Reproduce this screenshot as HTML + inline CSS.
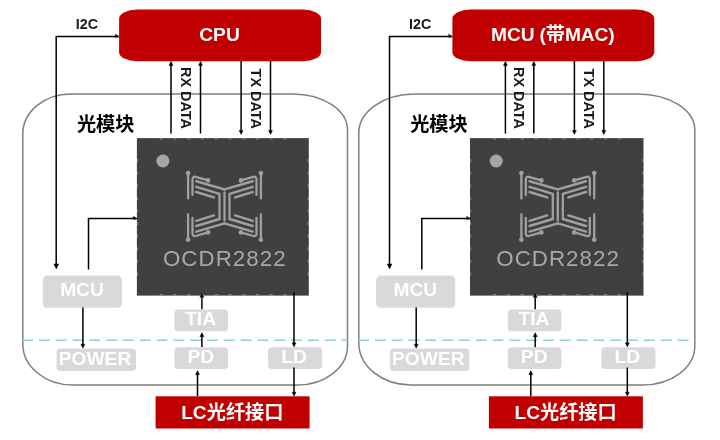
<!DOCTYPE html>
<html lang="zh-CN">
<head>
<meta charset="utf-8">
<title>OCDR2822 光模块</title>
<style>
html,body{margin:0;padding:0;background:#fff;}
body{width:720px;height:440px;overflow:hidden;}
svg{display:block;font-family:"Liberation Sans","Noto Sans CJK SC",sans-serif;filter:blur(0.35px);}
</style>
</head>
<body>
<svg width="720" height="440" viewBox="0 0 720 440">
<rect width="720" height="440" fill="#fff"/>
<path d="M70.80,93.90 L292.50,93.90 A55.00,36.00 0 0 1 347.50,129.90 L347.50,346.00 A50.00,39.00 0 0 1 297.50,385.00 L72.80,385.00 A50.00,41.00 0 0 1 22.80,344.00 L22.80,133.90 A48.00,40.00 0 0 1 70.80,93.90 Z" fill="none" stroke="#7f7f7f" stroke-width="1.5"/>
<line x1="22.10" y1="340.3" x2="347.50" y2="340.3" stroke="#92cddc" stroke-width="1.5" stroke-dasharray="10.9 5.915"/>
<rect x="119.10" y="9.50" width="201.90" height="51.70" rx="18.00" ry="9.00" fill="#c00000" stroke="none" stroke-width="0"/>
<text x="219.50" y="41.20" font-size="19.2" fill="#fff" text-anchor="middle" font-weight="700" letter-spacing="0">CPU</text>
<text x="87.00" y="28.60" font-size="14.4" fill="#1a1a1a" text-anchor="middle" font-weight="700" >I2C</text>
<polyline points="118.50,36.40 56.20,36.40 56.20,266.00" fill="none" stroke="#000" stroke-width="1.5"/>
<polygon points="119.20,36.70 115.40,34.20 115.40,37.40" fill="#000" stroke="#000" stroke-width="0.4" stroke-linejoin="round"/>
<polygon points="56.30,268.90 53.90,263.90 58.70,263.90" fill="#000" stroke="#000" stroke-width="0.4" stroke-linejoin="round"/>
<polyline points="171.00,64.00 171.00,133.50" fill="none" stroke="#000" stroke-width="1.5"/>
<polygon points="171.00,61.30 169.00,65.40 173.00,65.40" fill="#000" stroke="#000" stroke-width="0.4" stroke-linejoin="round"/>
<polyline points="200.50,64.00 200.50,133.50" fill="none" stroke="#000" stroke-width="1.5"/>
<polygon points="200.50,61.30 198.50,65.40 202.50,65.40" fill="#000" stroke="#000" stroke-width="0.4" stroke-linejoin="round"/>
<polyline points="241.10,61.00 241.10,131.50" fill="none" stroke="#000" stroke-width="1.5"/>
<polygon points="241.10,134.50 239.10,130.40 243.10,130.40" fill="#000" stroke="#000" stroke-width="0.4" stroke-linejoin="round"/>
<polyline points="270.50,61.00 270.50,131.50" fill="none" stroke="#000" stroke-width="1.5"/>
<polygon points="270.50,134.50 268.50,130.40 272.50,130.40" fill="#000" stroke="#000" stroke-width="0.4" stroke-linejoin="round"/>
<text transform="translate(180.50,67.00) rotate(90)" font-size="14.4" font-weight="700" fill="#1a1a1a">RX DATA</text>
<text transform="translate(250.50,68.60) rotate(90)" font-size="14.4" font-weight="700" fill="#1a1a1a">TX DATA</text>
<text x="76.90" y="130.70" font-size="19.2" fill="#000" text-anchor="start" font-weight="700" >光模块</text>
<rect x="136.90" y="138.1" width="171.90" height="157.5" fill="#404040"/>
<path d="M159.70,138.8h3M159.70,294.7h3M173.45,138.8h3M173.45,294.7h3M187.20,138.8h3M187.20,294.7h3M200.95,138.8h3M200.95,294.7h3M214.70,138.8h3M214.70,294.7h3M228.45,138.8h3M228.45,294.7h3M242.20,138.8h3M242.20,294.7h3M255.95,138.8h3M255.95,294.7h3M269.70,138.8h3M269.70,294.7h3M283.45,138.8h3M283.45,294.7h3M137.40,159.10v3M308.30,159.10v3M137.40,171.70v3M308.30,171.70v3M137.40,184.30v3M308.30,184.30v3M137.40,196.90v3M308.30,196.90v3M137.40,209.50v3M308.30,209.50v3M137.40,222.10v3M308.30,222.10v3M137.40,234.70v3M308.30,234.70v3M137.40,247.30v3M308.30,247.30v3M137.40,259.90v3M308.30,259.90v3M137.40,272.50v3M308.30,272.50v3" fill="none" stroke="#fff" stroke-opacity="0.33" stroke-width="1.3"/>
<circle cx="162.90" cy="161" r="6.5" fill="#a6a6a6"/>
<g fill="none" stroke="#a0a0a0" stroke-width="2.3" stroke-linecap="round" stroke-linejoin="round"><polyline points="188.10,173.10 188.10,198.40"/><polyline points="188.10,239.70 188.10,214.40"/><polyline points="260.90,173.10 260.90,198.40"/><polyline points="260.90,239.70 260.90,214.40"/><circle cx="188.10" cy="173.10" r="2.3" fill="#a0a0a0" stroke="none"/><circle cx="188.10" cy="239.70" r="2.3" fill="#a0a0a0" stroke="none"/><circle cx="260.90" cy="173.10" r="2.3" fill="#a0a0a0" stroke="none"/><circle cx="260.90" cy="239.70" r="2.3" fill="#a0a0a0" stroke="none"/><path d="M192.50,194.90 L192.50,179.40 Q192.50,176.40 195.50,176.80 L208.10,180.40"/><path d="M192.50,217.90 L192.50,233.40 Q192.50,236.40 195.50,236.00 L208.10,232.40"/><path d="M256.50,194.90 L256.50,179.40 Q256.50,176.40 253.50,176.80 L240.90,180.40"/><path d="M256.50,217.90 L256.50,233.40 Q256.50,236.40 253.50,236.00 L240.90,232.40"/><circle cx="208.10" cy="180.40" r="2.3" fill="#a0a0a0" stroke="none"/><circle cx="208.10" cy="232.40" r="2.3" fill="#a0a0a0" stroke="none"/><circle cx="240.90" cy="180.40" r="2.3" fill="#a0a0a0" stroke="none"/><circle cx="240.90" cy="232.40" r="2.3" fill="#a0a0a0" stroke="none"/><g stroke-width="2.45"><polyline points="196.30,181.20 224.50,189.40"/><polyline points="196.30,231.60 224.50,223.40"/><polyline points="252.70,181.20 224.50,189.40"/><polyline points="252.70,231.60 224.50,223.40"/><polyline points="196.30,186.80 219.50,193.80"/><polyline points="196.30,226.00 219.50,219.00"/><polyline points="252.70,186.80 229.50,193.80"/><polyline points="252.70,226.00 229.50,219.00"/><polyline points="196.30,192.00 213.90,197.40"/><polyline points="196.30,220.80 213.90,215.40"/><polyline points="252.70,192.00 235.10,197.40"/><polyline points="252.70,220.80 235.10,215.40"/></g><polyline points="224.50,192.40 224.50,220.40"/><polyline points="219.50,194.80 219.50,218.00"/><polyline points="229.50,194.80 229.50,218.00"/></g>
<text x="224.80" y="265.7" font-size="22.3" fill="#a8a8a8" text-anchor="middle" letter-spacing="1.05" font-weight="400">OCDR2822</text>
<polyline points="136.50,218.50 88.50,218.50 88.50,269.40" fill="none" stroke="#000" stroke-width="1.5"/>
<polygon points="137.20,218.80 133.40,216.30 133.40,219.50" fill="#000" stroke="#000" stroke-width="0.4" stroke-linejoin="round"/>
<rect x="42.80" y="275.60" width="79.20" height="32.10" rx="4.50" ry="4.50" fill="#d9d9d9" stroke="none" stroke-width="0"/>
<text x="82.00" y="296.00" font-size="19.2" fill="#fff" text-anchor="middle" font-weight="700" >MCU</text>
<polyline points="82.90,307.50 82.90,345.00" fill="none" stroke="#000" stroke-width="1.5"/>
<polygon points="82.90,348.30 80.90,344.20 84.90,344.20" fill="#000" stroke="#000" stroke-width="0.4" stroke-linejoin="round"/>
<rect x="56.60" y="348.60" width="79.40" height="22.30" rx="4.00" ry="4.00" fill="#d9d9d9" stroke="none" stroke-width="0"/>
<text x="95.00" y="364.80" font-size="19.2" fill="#fff" text-anchor="middle" font-weight="700" >POWER</text>
<polyline points="201.90,298.00 201.90,309.50" fill="none" stroke="#000" stroke-width="1.5"/>
<polygon points="201.90,293.40 199.90,297.50 203.90,297.50" fill="#000" stroke="#000" stroke-width="0.4" stroke-linejoin="round"/>
<rect x="174.40" y="309.40" width="53.70" height="21.90" rx="4.00" ry="4.00" fill="#d9d9d9" stroke="none" stroke-width="0"/>
<text x="200.60" y="325.00" font-size="19.2" fill="#fff" text-anchor="middle" font-weight="700" >TIA</text>
<polyline points="201.90,336.00 201.90,347.30" fill="none" stroke="#000" stroke-width="1.5"/>
<polygon points="201.90,332.60 199.90,336.70 203.90,336.70" fill="#000" stroke="#000" stroke-width="0.4" stroke-linejoin="round"/>
<rect x="174.40" y="347.30" width="53.70" height="21.80" rx="4.00" ry="4.00" fill="#d9d9d9" stroke="none" stroke-width="0"/>
<text x="200.90" y="362.60" font-size="19.2" fill="#fff" text-anchor="middle" font-weight="700" >PD</text>
<polyline points="197.50,374.00 197.50,396.50" fill="none" stroke="#000" stroke-width="1.5"/>
<polygon points="197.50,370.60 195.50,374.70 199.50,374.70" fill="#000" stroke="#000" stroke-width="0.4" stroke-linejoin="round"/>
<polyline points="294.00,292.00 294.00,344.00" fill="none" stroke="#000" stroke-width="1.5"/>
<polygon points="294.00,346.90 292.00,342.80 296.00,342.80" fill="#000" stroke="#000" stroke-width="0.4" stroke-linejoin="round"/>
<rect x="268.10" y="347.30" width="54.10" height="21.80" rx="4.00" ry="4.00" fill="#d9d9d9" stroke="none" stroke-width="0"/>
<text x="294.10" y="362.60" font-size="19.2" fill="#fff" text-anchor="middle" font-weight="700" >LD</text>
<polyline points="294.00,367.50 294.00,393.00" fill="none" stroke="#000" stroke-width="1.5"/>
<polygon points="294.00,396.30 292.00,392.20 296.00,392.20" fill="#000" stroke="#000" stroke-width="0.4" stroke-linejoin="round"/>
<rect x="155.60" y="396.3" width="154" height="32.2" fill="#c00000"/>
<text x="232.30" y="419.30" font-size="19.2" fill="#fff" text-anchor="middle" font-weight="700" >LC光纤接口</text>
<path d="M414.80,93.90 L637.80,93.90 A57.00,36.00 0 0 1 694.80,129.90 L694.80,346.00 A52.00,39.00 0 0 1 642.80,385.00 L410.80,385.00 A52.00,42.00 0 0 1 358.80,343.00 L358.80,132.90 A56.00,39.00 0 0 1 414.80,93.90 Z" fill="none" stroke="#7f7f7f" stroke-width="1.5"/>
<line x1="358.10" y1="340.3" x2="694.80" y2="340.3" stroke="#92cddc" stroke-width="1.5" stroke-dasharray="10.9 5.915"/>
<rect x="452.40" y="9.50" width="201.90" height="51.70" rx="18.00" ry="9.00" fill="#c00000" stroke="none" stroke-width="0"/>
<text x="552.80" y="41.20" font-size="19.2" fill="#fff" text-anchor="middle" font-weight="700" letter-spacing="-0.12">MCU (带MAC)</text>
<text x="420.30" y="28.60" font-size="14.4" fill="#1a1a1a" text-anchor="middle" font-weight="700" >I2C</text>
<polyline points="451.80,36.40 389.50,36.40 389.50,266.00" fill="none" stroke="#000" stroke-width="1.5"/>
<polygon points="452.50,36.70 448.70,34.20 448.70,37.40" fill="#000" stroke="#000" stroke-width="0.4" stroke-linejoin="round"/>
<polygon points="389.60,268.90 387.20,263.90 392.00,263.90" fill="#000" stroke="#000" stroke-width="0.4" stroke-linejoin="round"/>
<polyline points="505.40,64.00 505.40,133.50" fill="none" stroke="#000" stroke-width="1.5"/>
<polygon points="505.40,61.30 503.40,65.40 507.40,65.40" fill="#000" stroke="#000" stroke-width="0.4" stroke-linejoin="round"/>
<polyline points="533.80,64.00 533.80,133.50" fill="none" stroke="#000" stroke-width="1.5"/>
<polygon points="533.80,61.30 531.80,65.40 535.80,65.40" fill="#000" stroke="#000" stroke-width="0.4" stroke-linejoin="round"/>
<polyline points="574.40,61.00 574.40,131.50" fill="none" stroke="#000" stroke-width="1.5"/>
<polygon points="574.40,134.50 572.40,130.40 576.40,130.40" fill="#000" stroke="#000" stroke-width="0.4" stroke-linejoin="round"/>
<polyline points="603.80,61.00 603.80,131.50" fill="none" stroke="#000" stroke-width="1.5"/>
<polygon points="603.80,134.50 601.80,130.40 605.80,130.40" fill="#000" stroke="#000" stroke-width="0.4" stroke-linejoin="round"/>
<text transform="translate(513.80,67.00) rotate(90)" font-size="14.4" font-weight="700" fill="#1a1a1a">RX DATA</text>
<text transform="translate(583.80,68.60) rotate(90)" font-size="14.4" font-weight="700" fill="#1a1a1a">TX DATA</text>
<text x="410.20" y="130.70" font-size="19.2" fill="#000" text-anchor="start" font-weight="700" >光模块</text>
<rect x="470.00" y="138.1" width="173.50" height="157.5" fill="#404040"/>
<path d="M493.03,138.8h3M493.03,294.7h3M506.90,138.8h3M506.90,294.7h3M520.78,138.8h3M520.78,294.7h3M534.66,138.8h3M534.66,294.7h3M548.54,138.8h3M548.54,294.7h3M562.42,138.8h3M562.42,294.7h3M576.29,138.8h3M576.29,294.7h3M590.17,138.8h3M590.17,294.7h3M604.05,138.8h3M604.05,294.7h3M617.93,138.8h3M617.93,294.7h3M470.50,159.10v3M643.00,159.10v3M470.50,171.70v3M643.00,171.70v3M470.50,184.30v3M643.00,184.30v3M470.50,196.90v3M643.00,196.90v3M470.50,209.50v3M643.00,209.50v3M470.50,222.10v3M643.00,222.10v3M470.50,234.70v3M643.00,234.70v3M470.50,247.30v3M643.00,247.30v3M470.50,259.90v3M643.00,259.90v3M470.50,272.50v3M643.00,272.50v3" fill="none" stroke="#fff" stroke-opacity="0.33" stroke-width="1.3"/>
<circle cx="496.20" cy="161" r="6.5" fill="#a6a6a6"/>
<g fill="none" stroke="#a0a0a0" stroke-width="2.3" stroke-linecap="round" stroke-linejoin="round"><polyline points="521.40,173.10 521.40,198.40"/><polyline points="521.40,239.70 521.40,214.40"/><polyline points="594.20,173.10 594.20,198.40"/><polyline points="594.20,239.70 594.20,214.40"/><circle cx="521.40" cy="173.10" r="2.3" fill="#a0a0a0" stroke="none"/><circle cx="521.40" cy="239.70" r="2.3" fill="#a0a0a0" stroke="none"/><circle cx="594.20" cy="173.10" r="2.3" fill="#a0a0a0" stroke="none"/><circle cx="594.20" cy="239.70" r="2.3" fill="#a0a0a0" stroke="none"/><path d="M525.80,194.90 L525.80,179.40 Q525.80,176.40 528.80,176.80 L541.40,180.40"/><path d="M525.80,217.90 L525.80,233.40 Q525.80,236.40 528.80,236.00 L541.40,232.40"/><path d="M589.80,194.90 L589.80,179.40 Q589.80,176.40 586.80,176.80 L574.20,180.40"/><path d="M589.80,217.90 L589.80,233.40 Q589.80,236.40 586.80,236.00 L574.20,232.40"/><circle cx="541.40" cy="180.40" r="2.3" fill="#a0a0a0" stroke="none"/><circle cx="541.40" cy="232.40" r="2.3" fill="#a0a0a0" stroke="none"/><circle cx="574.20" cy="180.40" r="2.3" fill="#a0a0a0" stroke="none"/><circle cx="574.20" cy="232.40" r="2.3" fill="#a0a0a0" stroke="none"/><g stroke-width="2.45"><polyline points="529.60,181.20 557.80,189.40"/><polyline points="529.60,231.60 557.80,223.40"/><polyline points="586.00,181.20 557.80,189.40"/><polyline points="586.00,231.60 557.80,223.40"/><polyline points="529.60,186.80 552.80,193.80"/><polyline points="529.60,226.00 552.80,219.00"/><polyline points="586.00,186.80 562.80,193.80"/><polyline points="586.00,226.00 562.80,219.00"/><polyline points="529.60,192.00 547.20,197.40"/><polyline points="529.60,220.80 547.20,215.40"/><polyline points="586.00,192.00 568.40,197.40"/><polyline points="586.00,220.80 568.40,215.40"/></g><polyline points="557.80,192.40 557.80,220.40"/><polyline points="552.80,194.80 552.80,218.00"/><polyline points="562.80,194.80 562.80,218.00"/></g>
<text x="558.10" y="265.7" font-size="22.3" fill="#a8a8a8" text-anchor="middle" letter-spacing="1.05" font-weight="400">OCDR2822</text>
<polyline points="469.80,218.50 421.80,218.50 421.80,269.40" fill="none" stroke="#000" stroke-width="1.5"/>
<polygon points="470.50,218.80 466.70,216.30 466.70,219.50" fill="#000" stroke="#000" stroke-width="0.4" stroke-linejoin="round"/>
<rect x="376.10" y="275.60" width="79.20" height="32.10" rx="4.50" ry="4.50" fill="#d9d9d9" stroke="none" stroke-width="0"/>
<text x="415.30" y="296.00" font-size="19.2" fill="#fff" text-anchor="middle" font-weight="700" >MCU</text>
<polyline points="416.20,307.50 416.20,345.00" fill="none" stroke="#000" stroke-width="1.5"/>
<polygon points="416.20,348.30 414.20,344.20 418.20,344.20" fill="#000" stroke="#000" stroke-width="0.4" stroke-linejoin="round"/>
<rect x="389.90" y="348.60" width="79.40" height="22.30" rx="4.00" ry="4.00" fill="#d9d9d9" stroke="none" stroke-width="0"/>
<text x="428.30" y="364.80" font-size="19.2" fill="#fff" text-anchor="middle" font-weight="700" >POWER</text>
<polyline points="535.20,298.00 535.20,309.50" fill="none" stroke="#000" stroke-width="1.5"/>
<polygon points="535.20,293.40 533.20,297.50 537.20,297.50" fill="#000" stroke="#000" stroke-width="0.4" stroke-linejoin="round"/>
<rect x="507.70" y="309.40" width="53.70" height="21.90" rx="4.00" ry="4.00" fill="#d9d9d9" stroke="none" stroke-width="0"/>
<text x="533.90" y="325.00" font-size="19.2" fill="#fff" text-anchor="middle" font-weight="700" >TIA</text>
<polyline points="535.20,336.00 535.20,347.30" fill="none" stroke="#000" stroke-width="1.5"/>
<polygon points="535.20,332.60 533.20,336.70 537.20,336.70" fill="#000" stroke="#000" stroke-width="0.4" stroke-linejoin="round"/>
<rect x="507.70" y="347.30" width="53.70" height="21.80" rx="4.00" ry="4.00" fill="#d9d9d9" stroke="none" stroke-width="0"/>
<text x="534.20" y="362.60" font-size="19.2" fill="#fff" text-anchor="middle" font-weight="700" >PD</text>
<polyline points="530.80,374.00 530.80,396.50" fill="none" stroke="#000" stroke-width="1.5"/>
<polygon points="530.80,370.60 528.80,374.70 532.80,374.70" fill="#000" stroke="#000" stroke-width="0.4" stroke-linejoin="round"/>
<polyline points="627.30,292.00 627.30,344.00" fill="none" stroke="#000" stroke-width="1.5"/>
<polygon points="627.30,346.90 625.30,342.80 629.30,342.80" fill="#000" stroke="#000" stroke-width="0.4" stroke-linejoin="round"/>
<rect x="601.40" y="347.30" width="54.10" height="21.80" rx="4.00" ry="4.00" fill="#d9d9d9" stroke="none" stroke-width="0"/>
<text x="627.40" y="362.60" font-size="19.2" fill="#fff" text-anchor="middle" font-weight="700" >LD</text>
<polyline points="627.30,367.50 627.30,393.00" fill="none" stroke="#000" stroke-width="1.5"/>
<polygon points="627.30,396.30 625.30,392.20 629.30,392.20" fill="#000" stroke="#000" stroke-width="0.4" stroke-linejoin="round"/>
<rect x="488.90" y="396.3" width="154" height="32.2" fill="#c00000"/>
<text x="565.60" y="419.30" font-size="19.2" fill="#fff" text-anchor="middle" font-weight="700" >LC光纤接口</text>
</svg>
</body>
</html>
